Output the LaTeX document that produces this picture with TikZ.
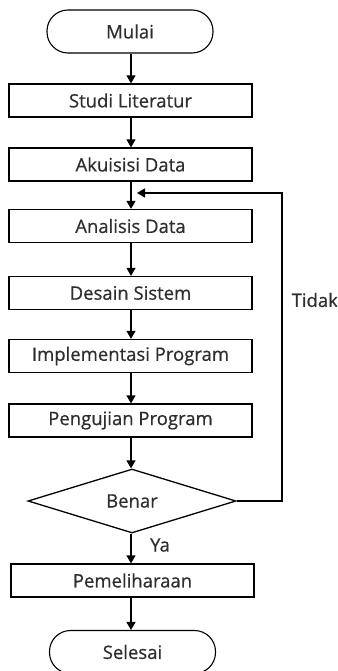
\documentclass[tikz,border=0pt]{standalone}
\usepackage{fontspec}
\setmainfont{Open Sans}[FakeBold=0.6]
\usetikzlibrary{shapes.geometric,arrows.meta}
\begin{document}
\begin{tikzpicture}[x=1pt,y=-1pt,
  font=\fontsize{18.5}{21}\selectfont,
  line width=1.3pt,
  every node/.style={text=black!82},
  procbox/.style={draw=black, line width=1.3pt, rectangle, minimum width=243pt, minimum height=33pt, inner sep=0pt},
  termbox/.style={draw=black, line width=1.1pt, rectangle, rounded corners=21pt, minimum width=166pt, minimum height=43pt, inner sep=0pt},
  decbox/.style={draw=black, line width=1.3pt, diamond, aspect=3.25, minimum width=208pt, minimum height=64pt, inner sep=0pt},
  flow/.style={draw=black, line width=1.3pt, -{Triangle[length=8pt,width=9pt]}},
  lbl/.style={inner sep=0pt}]
\useasboundingbox (0,0) rectangle (337,671);
\clip (0,0) rectangle (337,671);
\node[termbox] (mulai) at (130,31.5) {Mulai};
\node[procbox] (studi) at (130.5,100.5) {Studi Literatur};
\node[procbox] (akuisisi) at (130.5,164.5) {Akuisisi Data};
\node[procbox] (analisis) at (130.5,226) {Analisis Data};
\node[procbox] (desain) at (130.5,293) {Desain Sistem};
\node[procbox] (impl) at (130.5,356) {Implementasi Program};
\node[procbox] (uji) at (130.5,420.5) {Pengujian Program};
\node[decbox] (benar) at (132,501) {Benar};
\node[procbox] (pelihara) at (132.5,580.5) {Pemeliharaan};
\node[termbox] (selesai) at (132.5,652) {Selesai};
\node[lbl, anchor=west] (tidak) at (291,300) {Tidak};
\node[lbl] (ya) at (160,545) {Ya};
\coordinate (loopR) at (282,193);
\coordinate (loopL) at (137,193);
\draw[flow] (mulai.south -| 131,0) -- (studi.north -| 131,0);
\draw[flow] (studi.south -| 131,0) -- (akuisisi.north -| 131,0);
\draw[flow] (akuisisi.south -| 131,0) -- (analisis.north -| 131,0);
\draw[flow] (analisis.south -| 131,0) -- (desain.north -| 131,0);
\draw[flow] (desain.south -| 131,0) -- (impl.north -| 131,0);
\draw[flow] (impl.south -| 131,0) -- (uji.north -| 131,0);
\draw[flow] (uji.south -| 131,0) -- (benar.north -| 131,0);
\draw[flow] (benar.south -| 131,0) -- (pelihara.north -| 131,0);
\draw[flow] (pelihara.south -| 131,0) -- (selesai.north -| 131,0);
\draw[flow] (benar.east) -- (benar.east -| loopR) -- (loopR) -- (loopL);
\end{tikzpicture}
\end{document}
